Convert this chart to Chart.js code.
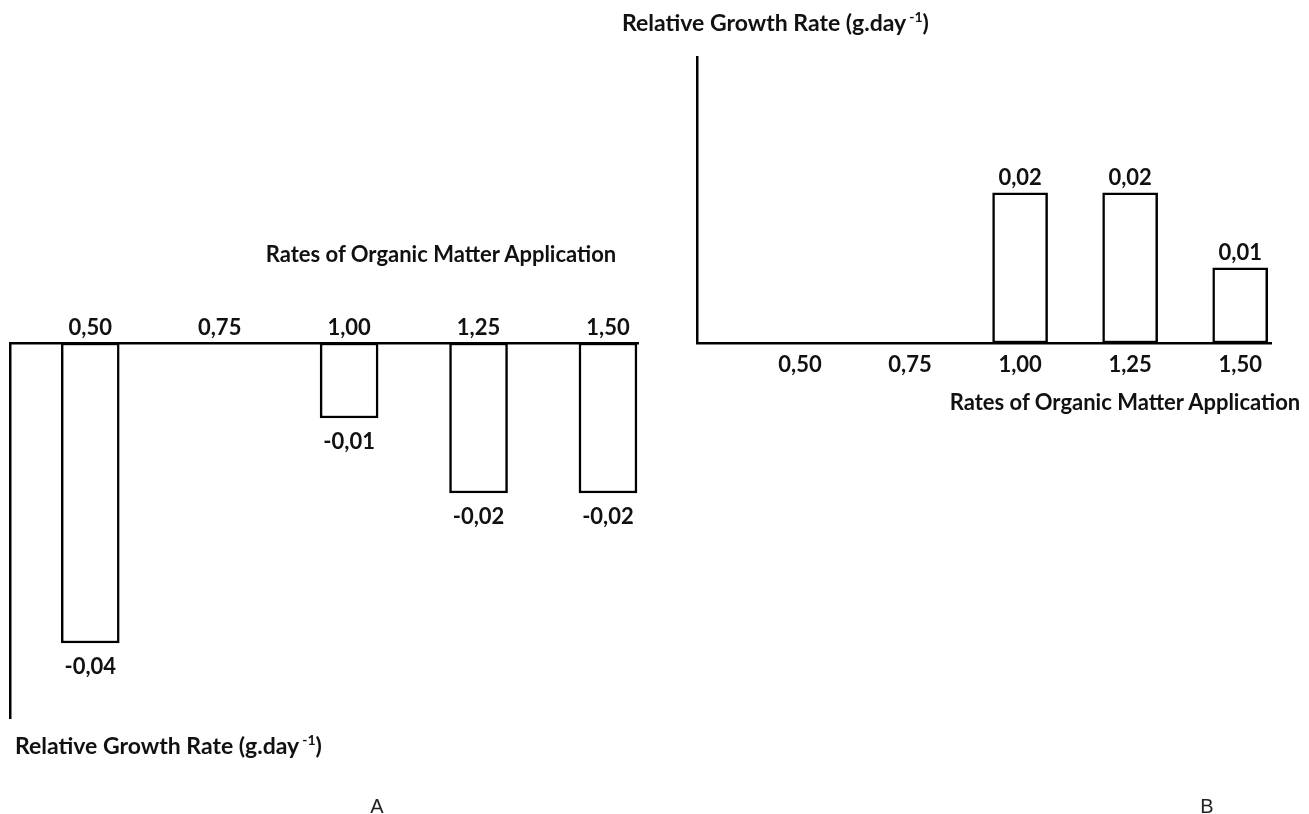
<!DOCTYPE html>
<html>
<head>
<meta charset="utf-8">
<script src="https://cdn.jsdelivr.net/npm/chart.js@4.4.1/dist/chart.umd.min.js"></script>
<style>
  html, body { margin: 0; padding: 0; background: #fff; }
  #page { position: relative; width: 1309px; height: 814px; overflow: hidden; font-family: Lato, "Open Sans", sans-serif; color: #111; }
  canvas { position: absolute; top: 0; }
  #chartA { left: 0; }
  #chartB { left: 660px; }
  .lbl { position: absolute; font-weight: bold; font-size: 22px; line-height: 26px; white-space: nowrap; }
  .lbl.ytitle { font-size: 23px; }
  .lbl sup { font-size: 14px; vertical-align: 9px; line-height: 0; margin-left: 3px; }
  .panel { position: absolute; font-family: "Liberation Sans", Arial, sans-serif; font-size: 20px; line-height: 20px; transform: translateX(-50%); color: #222; }
</style>
</head>
<body>
<div id="page">
  <canvas id="chartA" width="660" height="814"></canvas>
  <canvas id="chartB" width="649" height="814"></canvas>

  <div class="lbl" style="left:441px; top:241px; transform:translateX(-50%)">Rates of Organic Matter Application</div>
  <div class="lbl ytitle" style="left:15px; top:732px">Relative Growth Rate (g.day<sup>-1</sup>)</div>
  <div class="lbl ytitle" style="left:622px; top:9px">Relative Growth Rate (g.day<sup>-1</sup>)</div>
  <div class="lbl" style="left:1125px; top:389px; transform:translateX(-50%)">Rates of Organic Matter Application</div>

  <div class="panel" style="left:377px; top:796px">A</div>
  <div class="panel" style="left:1207px; top:796px">B</div>
</div>

<script>
// organic matter rates (x) and relative growth rate for the two panels
const rates = [0.50, 0.75, 1.00, 1.25, 1.50];
const rateLabels = ['0,50', '0,75', '1,00', '1,25', '1,50'];
const rgrA = [-0.04, null, -0.01, -0.02, -0.02];
const rgrB = [null, null, 0.02, 0.02, 0.01];

const ink = '#111';
const labelFont = {family: 'Lato', size: 22, weight: 'bold'};

// value written just past the end of each bar
const valueLabels = {
  id: 'valueLabels',
  afterDatasetsDraw(chart, args, opts) {
    const ctx = chart.ctx;
    const meta = chart.getDatasetMeta(0);
    const data = chart.data.datasets[0].data;
    ctx.save();
    ctx.font = 'bold 22px Lato';
    ctx.fillStyle = ink;
    ctx.textAlign = 'center';
    ctx.textBaseline = 'middle';
    meta.data.forEach((bar, i) => {
      const v = data[i].y;
      if (v == null) return;
      const y = v < 0 ? bar.y + opts.offset : bar.y - opts.offset;
      ctx.fillText(v.toFixed(2).replace('.', ','), bar.x, y);
    });
    ctx.restore();
  }
};

function makeChart(id, values, o) {
  return new Chart(document.getElementById(id), {
    type: 'bar',
    data: {
      datasets: [{
        data: rates.map((r, i) => ({x: r, y: values[i]})),
        backgroundColor: '#fff',
        borderColor: '#000',
        borderWidth: 2.5,
        borderSkipped: false,
        barThickness: o.barThickness,
        clip: false
      }]
    },
    options: {
      responsive: false,
      animation: false,
      layout: {padding: o.padding},
      plugins: {
        legend: {display: false},
        tooltip: {enabled: false},
        valueLabels: {offset: o.labelOffset}
      },
      scales: {
        x: {
          type: 'linear',
          position: o.xPosition,
          offset: false,
          min: o.xMin,
          max: o.xMax,
          grid: {display: false, drawTicks: false},
          border: {display: true, color: '#000', width: 2.5},
          afterBuildTicks: axis => { axis.ticks = rates.map(v => ({value: v})); },
          afterFit: s => { s.height = o.xHeight; },
          ticks: {
            autoSkip: false,
            maxRotation: 0,
            padding: o.tickPadding,
            color: ink,
            font: labelFont,
            callback: v => rateLabels[rates.indexOf(v)]
          }
        },
        y: {
          min: o.yMin,
          max: o.yMax,
          grid: {display: false, drawTicks: false},
          border: {display: true, color: '#000', width: 2.5},
          ticks: {display: false},
          afterFit: s => { s.width = 0; }
        }
      }
    },
    plugins: [valueLabels]
  });
}

makeChart('chartA', rgrA, {
  padding: {left: 10, right: 22, top: 243, bottom: 96},
  xPosition: 'top', xHeight: 100, tickPadding: 2,
  xMin: 0.345, xMax: 1.558,
  yMin: -0.05, yMax: 0,
  barThickness: 58, labelOffset: 24
});

makeChart('chartB', rgrB, {
  padding: {left: 37, right: 38, top: 57, bottom: 431},
  xPosition: 'bottom', xHeight: 40, tickPadding: 9,
  xMin: 0.266, xMax: 1.570,
  yMin: 0, yMax: 0.0381,
  barThickness: 55, labelOffset: 15
});
</script>
</body>
</html>
